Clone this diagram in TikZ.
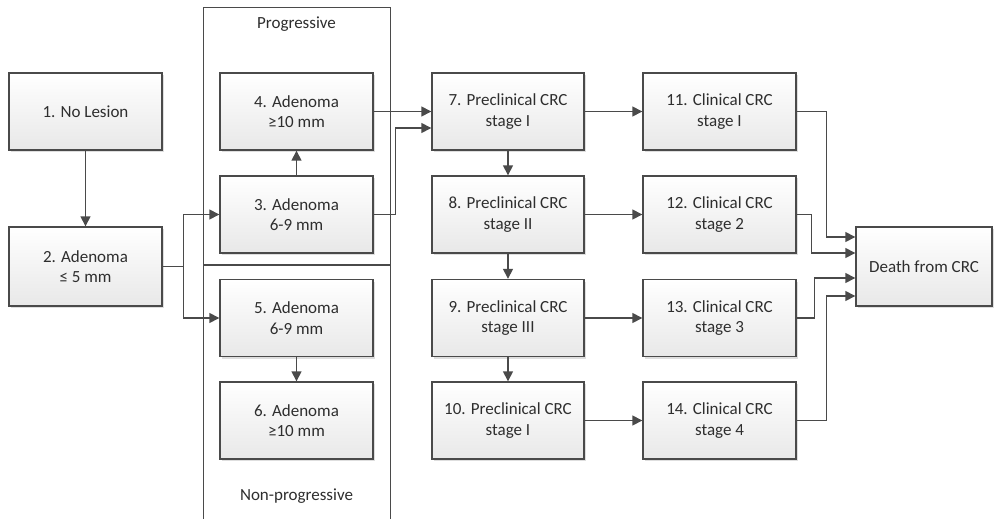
\documentclass[tikz,border=0pt]{standalone}
\usepackage{fontspec}
\setmainfont{Carlito}
\usetikzlibrary{arrows.meta,shadows,positioning}
\definecolor{edge}{HTML}{4A4A4A}
\definecolor{txt}{HTML}{2E2E2E}
\tikzset{
  box/.style={draw=edge, line width=1.4pt, top color=white, bottom color=black!9,
    minimum width=153pt, minimum height=77pt, inner sep=0pt, align=center,
    font=\fontsize{17}{20.5}\selectfont, text=txt,
    drop shadow={shadow xshift=2pt, shadow yshift=-2pt, fill=black!25, opacity=0.5}},
  arr/.style={draw=edge, line width=1.5pt, -{Triangle[length=10pt,width=10pt]}},
  wire/.style={draw=edge, line width=1.5pt},
  cont/.style={draw=edge, line width=1pt},
  lab/.style={font=\fontsize{17}{20.5}\selectfont, text=txt}
}
\begin{document}
\begin{tikzpicture}[x=1pt,y=-1pt]
\useasboundingbox (0,0) rectangle (996,519);
\fill[white] (0,0) rectangle (996,519);
% containers
\draw[cont] (203,530) -- (203,8) -- (390,8) -- (390,530);
\draw[cont, line width=2pt] (203,265) -- (390,265);
\node[lab] (prog) at (296.5,24) {Progressive};
\node[lab] (nonprog) at (296.5,496) {Non-progressive};
% nodes
\node[box] (n1) at (85.5,111.5) {1. No Lesion};
\node[box, minimum height=79pt] (n2) at (85.5,266.5) {2. Adenoma\\≤ 5 mm};
\node[box] (n4) at (296.5,111.5) {4. Adenoma\\≥10 mm};
\node[box] (n3) at (296.5,214.5) {3. Adenoma\\6-9 mm};
\node[box] (n5) at (296.5,318) {5. Adenoma\\6-9 mm};
\node[box] (n6) at (296.5,420.5) {6. Adenoma\\≥10 mm};
\node[box, minimum width=152pt] (n7) at (508,111.5) {7. Preclinical CRC\\stage I};
\node[box, minimum width=152pt] (n8) at (508,214.5) {8. Preclinical CRC\\stage II};
\node[box, minimum width=152pt] (n9) at (508,318) {9. Preclinical CRC\\stage III};
\node[box, minimum width=152pt] (n10) at (508,420.5) {10. Preclinical CRC\\stage I};
\node[box] (n11) at (719.5,111.5) {11. Clinical CRC\\stage I};
\node[box] (n12) at (719.5,214.5) {12. Clinical CRC\\stage 2};
\node[box] (n13) at (719.5,318) {13. Clinical CRC\\stage 3};
\node[box] (n14) at (719.5,420.5) {14. Clinical CRC\\stage 4};
\node[box, minimum width=136pt, minimum height=79pt] (death) at (924,266.5) {Death from CRC};
% connectors
\draw[arr] (n1) -- (n2);
\draw[wire] (n2.east) -- ++(21,0) coordinate (split);
\draw[arr] (split) |- (n3.west);
\draw[arr] (split) |- (n5.west);
\draw[arr] (n3) -- (n4);
\draw[arr] (n5) -- (n6);
\draw[arr] (n4.east) -- (n7.west);
\draw[arr] (n3.east) -- ++(22,0) |- ([yshift=-16.5pt]n7.west);
\draw[arr] (n7) -- (n8);
\draw[arr] (n8) -- (n9);
\draw[arr] (n9) -- (n10);
\draw[arr] (n7) -- (n11);
\draw[arr] (n8) -- (n12);
\draw[arr] (n9) -- (n13);
\draw[arr] (n10) -- (n14);
\draw[arr] (n11.east) -- ++(30,0) |- ([yshift=29.5pt]death.west);
\draw[arr] (n12.east) -- ++(15,0) |- ([yshift=13.5pt]death.west);
\draw[arr] (n13.east) -- ++(18,0) |- ([yshift=-11.5pt]death.west);
\draw[arr] (n14.east) -- ++(30,0) |- ([yshift=-29.5pt]death.west);
\end{tikzpicture}
\end{document}
